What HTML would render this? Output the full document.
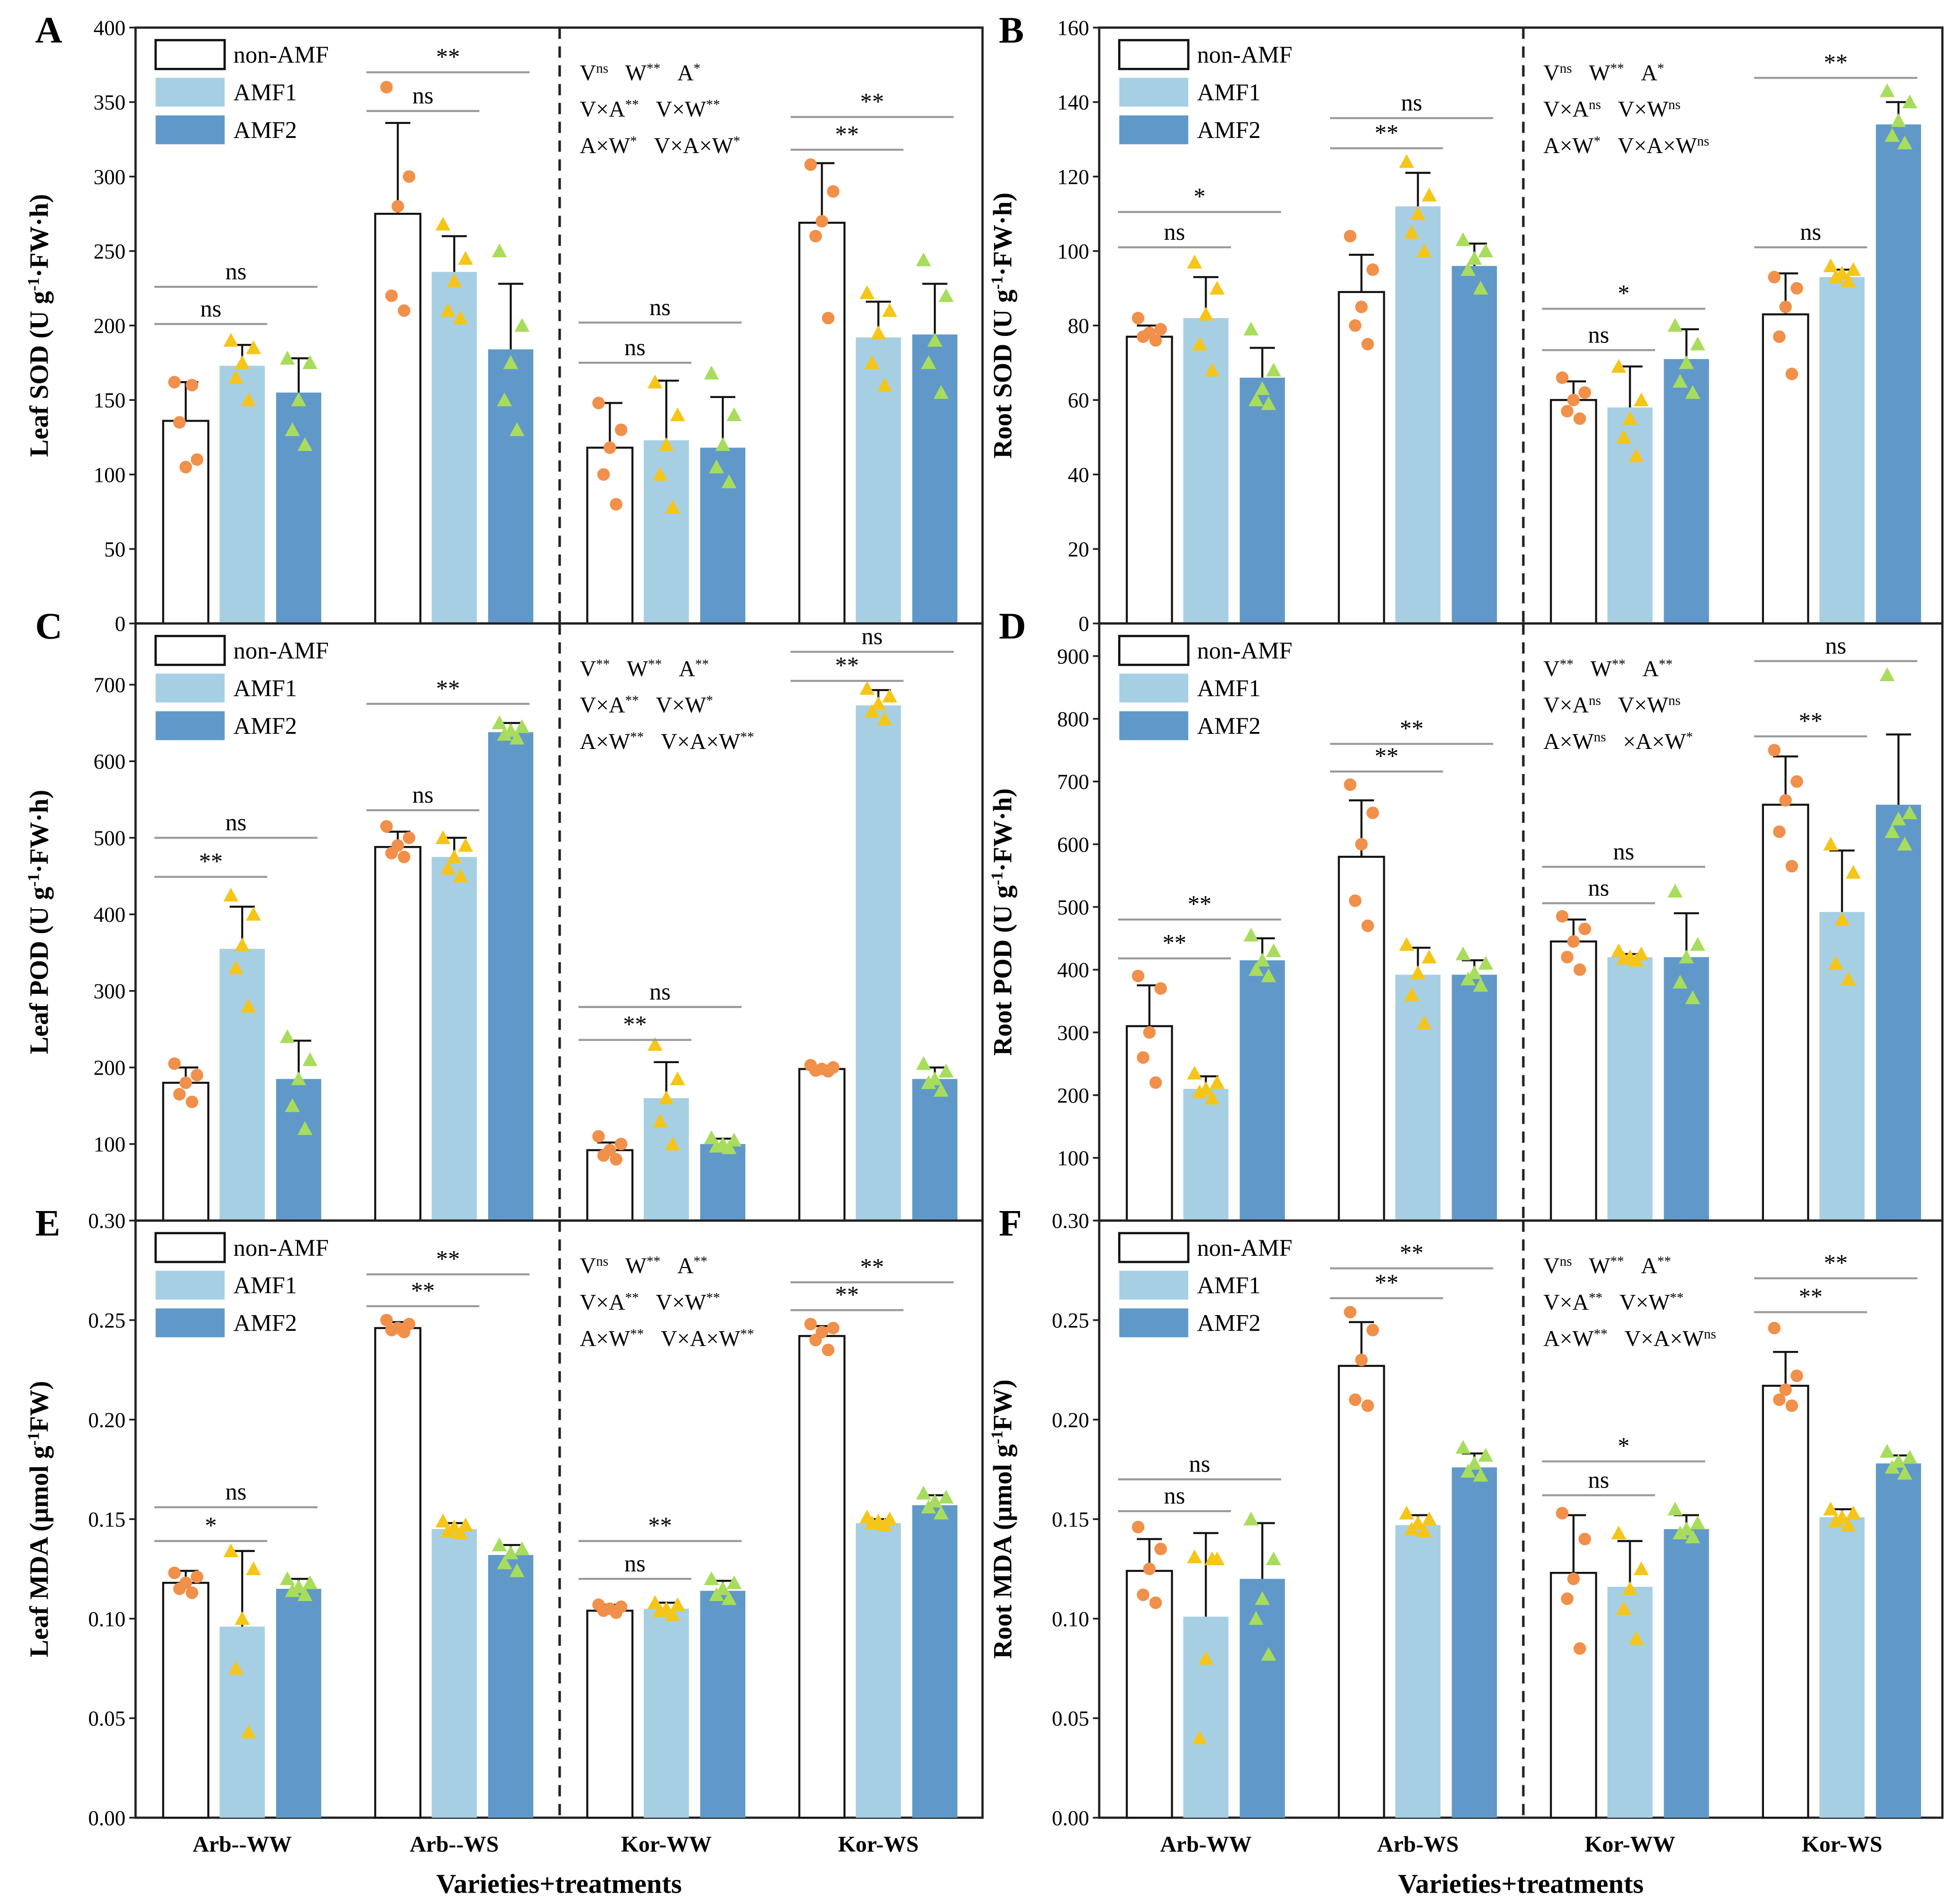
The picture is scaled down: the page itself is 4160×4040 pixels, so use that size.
<!DOCTYPE html>
<html><head><meta charset="utf-8"><style>
html,body{margin:0;padding:0;background:#fff;}
svg{display:block;font-family:"Liberation Serif",serif;}
</style></head><body>
<svg id="chart" width="4160" height="4040" viewBox="0 0 1562 1517" xmlns="http://www.w3.org/2000/svg">
<rect x="0" y="0" width="1562" height="1517" fill="#fff"/>
</svg>
<script>
const groupsLeft = ["Arb--WW","Arb--WS","Kor-WW","Kor-WS"];
const groupsRight = ["Arb-WW","Arb-WS","Kor-WW","Kor-WS"];
const seriesNames = ["non-AMF","AMF1","AMF2"];

// Panel A: Leaf SOD
const aMeans = [[136,173,155],[275,236,184],[118,123,118],[269,192,194]];
const aErr = [[162,187,178],[336,260,228],[148,163,152],[309,216,228]];
const aPts = [[[162,110,105,135,160],[190,185,175,165,150],[178,175,150,130,120]],
 [[360,300,280,220,210],[268,245,230,210,205],[250,200,175,150,130]],
 [[148,130,118,100,80],[162,140,120,100,78],[168,140,120,105,95]],
 [[308,290,270,260,205],[222,210,195,175,160],[244,220,190,175,155]]];
const aAnn = [[0,2,226,"ns"],[0,1,201,"ns"],[1,2,370,"**"],[1,1,344,"ns"],[2,2,202,"ns"],[2,1,175,"ns"],[3,2,340,"**"],[3,1,318,"**"]];
const aTicks = [0,50,100,150,200,250,300,350,400];

// Panel B: Root SOD
const bMeans = [[77,82,66],[89,112,96],[60,58,71],[83,93,134]];
const bErr = [[80,93,74],[99,121,102],[65,69,79],[94,95,140]];
const bPts = [[[82,79,78,77,76],[97,90,83,75,68],[79,68,63,60,59]],
 [[104,95,85,80,75],[124,115,110,105,100],[103,100,98,95,90]],
 [[66,62,60,57,55],[69,60,55,50,45],[80,75,70,65,62]],
 [[93,90,85,77,67],[96,95,94,93,92],[143,140,135,131,129]]];
const bAnn = [[0,2,110.5,"*"],[0,1,101,"ns"],[1,2,135.7,"ns"],[1,1,127.6,"**"],[2,2,84.5,"*"],[2,1,73.4,"ns"],[3,2,146.5,"**"],[3,1,101,"ns"]];
const bTicks = [0,20,40,60,80,100,120,140,160];

// Panel C: Leaf POD
const cMeans = [[180,355,185],[488,475,638],[92,160,100],[198,673,185]];
const cErr = [[200,410,235],[508,500,650],[102,207,107],[202,693,200]];
const cPts = [[[205,190,180,165,155],[425,400,360,330,280],[240,210,185,150,120]],
 [[515,500,490,480,475],[500,490,475,460,450],[650,645,640,635,630]],
 [[110,100,92,85,80],[230,185,160,130,100],[108,105,100,97,95]],
 [[203,200,198,196,195],[695,685,675,665,655],[205,195,185,180,170]]];
const cAnn = [[0,2,500,"ns"],[0,1,449,"**"],[1,2,675,"**"],[1,1,536,"ns"],[2,2,279,"ns"],[2,1,236,"**"],[3,2,743,"ns"],[3,1,705,"**"]];
const cTicks = [100,200,300,400,500,600,700];

// Panel D: Root POD
const dMeans = [[310,210,415],[580,392,392],[445,420,420],[663,492,663]];
const dErr = [[375,230,450],[670,435,415],[480,425,490],[740,590,775]];
const dPts = [[[390,370,300,260,220],[235,220,210,205,195],[455,430,415,400,390]],
 [[695,650,600,510,470],[440,420,395,360,315],[425,410,395,385,375]],
 [[485,465,445,420,400],[430,425,420,418,415],[525,440,420,380,355]],
 [[750,700,670,620,565],[600,555,480,410,385],[870,650,640,620,600]]];
const dAnn = [[0,2,480,"**"],[0,1,418,"**"],[1,2,760,"**"],[1,1,716,"**"],[2,2,564,"ns"],[2,1,506,"ns"],[3,2,892,"ns"],[3,1,772,"**"]];
const dTicks = [100,200,300,400,500,600,700,800,900];

// Panel E: Leaf MDA
const eMeans = [[.118,.096,.115],[.246,.145,.132],[.104,.105,.114],[.242,.148,.157]];
const eErr = [[.124,.134,.120],[.249,.148,.137],[.107,.108,.119],[.247,.150,.162]];
const ePts = [[[.123,.121,.118,.115,.113],[.134,.125,.100,.075,.043],[.120,.118,.116,.114,.112]],
 [[.250,.248,.246,.245,.244],[.149,.147,.146,.144,.143],[.137,.135,.133,.128,.124]],
 [[.107,.106,.105,.104,.103],[.108,.107,.105,.104,.102],[.120,.118,.115,.112,.110]],
 [[.248,.246,.244,.240,.235],[.151,.150,.149,.148,.147],[.163,.161,.159,.156,.153]]];
const eAnn = [[0,2,.156,"ns"],[0,1,.139,"*"],[1,2,.273,"**"],[1,1,.257,"**"],[2,2,.139,"**"],[2,1,.120,"ns"],[3,2,.269,"**"],[3,1,.255,"**"]];
const eTicks = [0,.05,.10,.15,.20,.25,.30];

// Panel F: Root MDA
const fMeans = [[.124,.101,.120],[.227,.147,.176],[.123,.116,.145],[.217,.151,.178]];
const fErr = [[.140,.143,.148],[.249,.152,.183],[.152,.139,.152],[.234,.155,.182]];
const fPts = [[[.146,.135,.125,.112,.108],[.131,.130,.080,.040,.130],[.150,.130,.110,.100,.082]],
 [[.254,.245,.230,.210,.207],[.153,.150,.148,.145,.144],[.186,.182,.178,.174,.172]],
 [[.153,.140,.120,.110,.085],[.143,.125,.115,.105,.090],[.155,.148,.145,.143,.141]],
 [[.246,.222,.215,.210,.207],[.155,.153,.151,.149,.147],[.184,.181,.179,.176,.173]]];
const fAnn = [[0,2,.170,"ns"],[0,1,.154,"ns"],[1,2,.276,"**"],[1,1,.261,"**"],[2,2,.179,"*"],[2,1,.162,"ns"],[3,2,.271,"**"],[3,1,.254,"**"]];
const fTicks = [0,.05,.10,.15,.20,.25,.30];

const NS = "http://www.w3.org/2000/svg";
const svg = document.getElementById("chart");
const fills = ["#ffffff","#a7cfe3","#6099c9"];
const ptCols = ["#f0904a","#f5c518","#a8dc5c"];

function mk(tag, attrs, parent){
  const e = document.createElementNS(NS, tag);
  for (const k in attrs) e.setAttribute(k, attrs[k]);
  (parent||svg).appendChild(e);
  return e;
}

function statsText(g, x, y, lines){
  lines.forEach((ln, i) => {
    const t = mk("text", {x: x, y: y + i*29, "font-size": 18, fill: "#000"}, g);
    
    
    ln.forEach(([b, s], j) => {
      const a = mk("tspan", {}, t); a.textContent = (j ? "\u00a0\u00a0\u00a0" : "") + b;
      const sp = mk("tspan", {"font-size": 11, "baseline-shift": "super"}, t); sp.textContent = s;
    });
  });
}

function panel(p){
  const g = mk("g", {});
  
  
  const yS = v => p.y1 - (v - p.vmin) / (p.vmax - p.vmin) * (p.y1 - p.y0);
  const xC = (gi, bi) => p.x0 + 40 + gi*169 + bi*45;
  const fr = mk("rect", {x: p.x0, y: p.y0, width: p.x1 - p.x0, height: p.y1 - p.y0, fill: "none", stroke: "#222", "stroke-width": 1.8}, g);
  
  
  const dl = mk("line", {x1: p.x0 + 338, x2: p.x0 + 338, y1: p.y0, y2: p.y1, stroke: "#222", "stroke-width": 2, "stroke-dasharray": "9,6"}, g);
  
  
  p.ticks.forEach(tv => {
    const y = yS(tv);
    mk("line", {x1: p.x0 - 5, x2: p.x0, y1: y, y2: y, stroke: "#222", "stroke-width": 1.4}, g);
    const t = mk("text", {x: p.x0 - 8, y: y + 6, "font-size": 17, "text-anchor": "end"}, g);
    t.textContent = p.fmt(tv);
    
    
  });
  const yt = mk("text", {x: 0, y: 0, "font-size": 21, "font-weight": "bold", "text-anchor": "middle", transform: `translate(${p.x0 - 70},${(p.y0 + p.y1)/2}) rotate(-90)`}, g);
  
  
  p.title.forEach(([s, sup]) => {
    if (s) { const a = mk("tspan", {}, yt); a.textContent = s; }
    if (sup) { const b = mk("tspan", {"font-size": 13, "baseline-shift": "super"}, yt); b.textContent = sup; }
  });
  const lt = mk("text", {x: p.x0 - 80, y: p.y0 + 12, "font-size": 30, "font-weight": "bold"}, g);
  lt.textContent = p.letter;
  
  
  p.means.forEach((row, gi) => row.forEach((m, bi) => {
    const xc = xC(gi, bi), bw = 36;
    const r = mk("rect", {x: xc - bw/2, y: yS(m), width: bw, height: p.y1 - yS(m), fill: fills[bi], stroke: bi === 0 ? "#111" : "none", "stroke-width": 1.6}, g);
    
    
    const e = p.err[gi][bi];
    mk("line", {x1: xc, x2: xc, y1: yS(m), y2: yS(e), stroke: "#111", "stroke-width": 1.6}, g);
    const cap = mk("line", {x1: xc - 10, x2: xc + 10, y1: yS(e), y2: yS(e), stroke: "#111", "stroke-width": 1.6}, g);
    
    
    p.pts[gi][bi].forEach((v, k) => {
      const px = xc + [-9, 9, 0, -5, 5][k], py = yS(v);
      let s;
      if (bi === 0) s = mk("circle", {cx: px, cy: py, r: 5, fill: ptCols[0]}, g);
      else s = mk("polygon", {points: `${px},${py-6} ${px-6},${py+5} ${px+6},${py+5}`, fill: ptCols[bi]}, g);
      
      
    });
  }));
  p.ann.forEach(([gi, to, v, txt]) => {
    const xa = xC(gi, 0) - 25, xb = xC(gi, to) + (to === 2 ? 15 : 20), y = yS(v);
    const l = mk("line", {x1: xa, x2: xb, y1: y, y2: y, stroke: "#999", "stroke-width": 1.6}, g);
    
    
    const t = mk("text", {x: (xa + xb)/2, y: y - 6, "font-size": 19, "text-anchor": "middle"}, g);
    t.textContent = txt;
    
    
  });
  seriesNames.forEach((n, i) => {
    const ly = p.y0 + 10 + i*30;
    const r = mk("rect", {x: p.x0 + 16, y: ly, width: 55, height: 23, fill: fills[i], stroke: i === 0 ? "#111" : "none", "stroke-width": 1.8}, g);
    
    
    const t = mk("text", {x: p.x0 + 78, y: ly + 18, "font-size": 19}, g);
    t.textContent = n;
    
    
  });
  statsText(g, p.x0 + 354, p.y0 + 42, p.stats);
  if (p.xlabels) {
    p.groups.forEach((n, gi) => {
      const t = mk("text", {x: xC(gi, 1), y: p.y1 + 27, "font-size": 18, "font-weight": "bold", "text-anchor": "middle"}, g);
      t.textContent = n;
      
      
    });
    const xt = mk("text", {x: (p.x0 + p.x1)/2, y: p.y1 + 60, "font-size": 22, "font-weight": "bold", "text-anchor": "middle"}, g);
    xt.textContent = "Varieties+treatments";
    
    
  }
}

const L = [108, 783], R = [876, 1548];
const iF = v => String(v);
const mF = v => v.toFixed(2);
panel({letter:"A", x0:L[0], x1:L[1], y0:22, y1:497, vmin:0, vmax:400, ticks:aTicks, fmt:iF, means:aMeans, err:aErr, pts:aPts, ann:aAnn, groups:groupsLeft,
  title:[["Leaf SOD (U g"],["","-1"],["·FW·h)"]], stats:[[["V","ns"],["W","**"],["A","*"]],[["V×A","**"],["V×W","**"]],[["A×W","*"],["V×A×W","*"]]]});
panel({letter:"B", x0:R[0], x1:R[1], y0:22, y1:497, vmin:0, vmax:160, ticks:bTicks, fmt:iF, means:bMeans, err:bErr, pts:bPts, ann:bAnn, groups:groupsRight,
  title:[["Root SOD (U g"],["","-1"],["·FW·h)"]], stats:[[["V","ns"],["W","**"],["A","*"]],[["V×A","ns"],["V×W","ns"]],[["A×W","*"],["V×A×W","ns"]]]});
panel({letter:"C", x0:L[0], x1:L[1], y0:497, y1:973, vmin:0, vmax:780, ticks:cTicks, fmt:iF, means:cMeans, err:cErr, pts:cPts, ann:cAnn, groups:groupsLeft,
  title:[["Leaf POD (U g"],["","-1"],["·FW·h)"]], stats:[[["V","**"],["W","**"],["A","**"]],[["V×A","**"],["V×W","*"]],[["A×W","**"],["V×A×W","**"]]]});
panel({letter:"D", x0:R[0], x1:R[1], y0:497, y1:973, vmin:0, vmax:952, ticks:dTicks, fmt:iF, means:dMeans, err:dErr, pts:dPts, ann:dAnn, groups:groupsRight,
  title:[["Root POD (U g"],["","-1"],["·FW·h)"]], stats:[[["V","**"],["W","**"],["A","**"]],[["V×A","ns"],["V×W","ns"]],[["A×W","ns"],["×A×W","*"]]]});
panel({letter:"E", x0:L[0], x1:L[1], y0:973, y1:1449, vmin:0, vmax:0.30, ticks:eTicks, fmt:mF, means:eMeans, err:eErr, pts:ePts, ann:eAnn, groups:groupsLeft, xlabels:true,
  title:[["Leaf MDA (μmol g"],["","-1"],["FW)"]], stats:[[["V","ns"],["W","**"],["A","**"]],[["V×A","**"],["V×W","**"]],[["A×W","**"],["V×A×W","**"]]]});
panel({letter:"F", x0:R[0], x1:R[1], y0:973, y1:1449, vmin:0, vmax:0.30, ticks:fTicks, fmt:mF, means:fMeans, err:fErr, pts:fPts, ann:fAnn, groups:groupsRight, xlabels:true,
  title:[["Root MDA (μmol g"],["","-1"],["FW)"]], stats:[[["V","ns"],["W","**"],["A","**"]],[["V×A","**"],["V×W","**"]],[["A×W","**"],["V×A×W","ns"]]]});
</script>
</body></html>
